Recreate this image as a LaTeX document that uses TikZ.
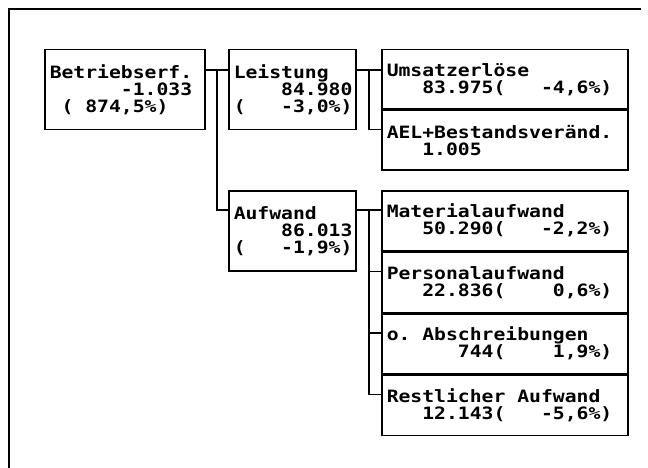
\documentclass[tikz,border=0pt]{standalone}
\usepackage{fontspec}
\setmonofont{DejaVu Sans Mono}[FakeStretch=1.16]
\usepackage{tikz}
\usetikzlibrary{
  calc,%
  positioning
}
\tikzset{>=latex}
% one blank of the mono font, also kept at line starts
\newcommand{\blk}[1]{\hspace*{#1\fontcharwd\font`0}}
\tikzset{box/.style={draw, rectangle, line width=1.5pt, anchor=north west,
    align=left, inner xsep=5pt, inner ysep=0pt,
    font=\ttfamily\bfseries\frenchspacing\fontsize{17}{17}\selectfont}}
\tikzset{link/.style={line width=1.5pt}}

\begin{document}
\begin{tikzpicture}[x=1pt, y=-1pt]
  \useasboundingbox (0,0) rectangle (648,468);
  \draw[line width=1.3pt] (9,468) coordinate (fb) -- (9,9) coordinate (fa) -- (641,9) coordinate (fc);

  \node[box, text width=150pt, minimum height=80pt] (betrieb) at (44,49)
    {Betriebserf.\\\blk{6}-1.033\\\blk{1}(\blk{1}874,5\%)};
  \node[box, text width=117pt, minimum height=80pt] (leist) at (228,49)
    {Leistung\\\blk{4}84.980\\(\blk{3}-3,0\%)};
  \node[box, text width=117pt, minimum height=80pt] (aufw) at (228,190)
    {Aufwand\\\blk{4}86.013\\(\blk{3}-1,9\%)};

  \node[box, text width=236pt, minimum height=59pt] (umsatz) at (381,49)
    {Umsatzerlöse\\\blk{3}83.975(\blk{3}-4,6\%)};
  \node[box, text width=236pt, minimum height=60pt] (ael) at (umsatz.south west)
    {AEL+Bestandsveränd.\\\blk{3}1.005};

  \node[box, text width=236pt, minimum height=60pt] (mat) at (381,190)
    {Materialaufwand\\\blk{3}50.290(\blk{3}-2,2\%)};
  \node[box, text width=236pt, minimum height=60pt] (pers) at (mat.south west)
    {Personalaufwand\\\blk{3}22.836(\blk{4}0,6\%)};
  \node[box, text width=236pt, minimum height=60pt] (abschr) at (pers.south west)
    {o.\blk{1}Abschreibungen\\\blk{6}744(\blk{4}1,9\%)};
  \node[box, text width=236pt, minimum height=60pt] (rest) at (abschr.south west)
    {Restlicher\blk{1}Aufwand\\\blk{3}12.143(\blk{3}-5,6\%)};

  % first text line of each box
  \coordinate (betrieb-out) at ([yshift=-21pt]betrieb.north east);
  \coordinate (leist-out) at ([yshift=-21pt]leist.north east);
  \coordinate (aufw-out) at ([yshift=-20pt]aufw.north east);
  \coordinate (aufw-in) at ([yshift=-20pt]aufw.north west);
  \coordinate (ael-in) at ([yshift=-20pt]ael.north west);
  \coordinate (pers-in) at ([yshift=-20pt]pers.north west);
  \coordinate (abschr-in) at ([yshift=-20pt]abschr.north west);
  \coordinate (rest-in) at ([yshift=-20pt]rest.north west);

  \draw[link] (betrieb-out) -- coordinate[midway] (t1) (betrieb-out -| leist.west);
  \draw[link] (t1) |- (aufw-in);
  \draw[link] (leist-out) -- coordinate[midway] (t2) (leist-out -| umsatz.west);
  \draw[link] (t2) |- (ael-in);
  \draw[link] (aufw-out) -- coordinate[midway] (t3) (aufw-out -| mat.west);
  \draw[link] (t3) |- (rest-in);
  \draw[link] (t3 |- pers-in) -- (pers-in);
  \draw[link] (t3 |- abschr-in) -- (abschr-in);
\end{tikzpicture}
\end{document}
